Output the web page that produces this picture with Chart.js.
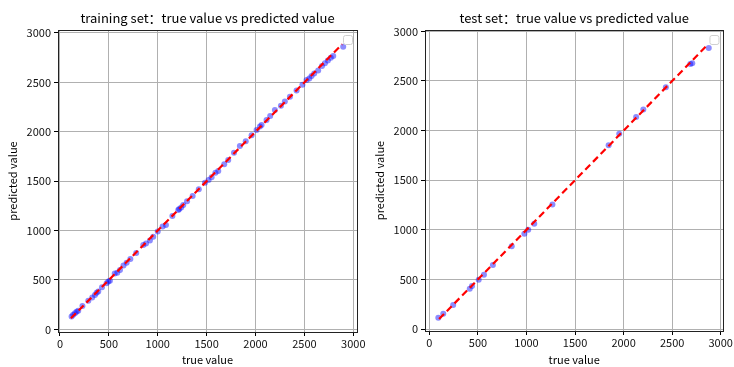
<!DOCTYPE html>
<html>
<head>
<meta charset="utf-8">
<script src="https://cdn.jsdelivr.net/npm/chart.js@4.4.1/dist/chart.umd.min.js"></script>
<style>
  html, body { margin: 0; padding: 0; background: #fff; }
  #wrap { position: relative; width: 734px; height: 367px; }
  canvas { position: absolute; top: 0; }
  #c1 { left: 0; }
  #c2 { left: 367px; }
</style>
</head>
<body>
<div id="wrap">
  <canvas id="c1" width="367" height="367"></canvas>
  <canvas id="c2" width="367" height="367"></canvas>
</div>
<script>
// ---- data ----
const trainTrue = [119,135,153,170,187,230,290,330,358,375,392,430,477,495,511,560,586,614,650,682,720,780,852,880,920,954,1000,1050,1084,1150,1210,1220,1240,1261,1300,1357,1420,1483,1520,1551,1590,1619,1680,1721,1780,1840,1900,1960,2011,2045,2062,2113,2150,2198,2260,2300,2352,2420,2480,2522,2550,2573,2600,2641,2680,2710,2740,2770,2795,2897];
const trainPred = [129,148,163,178,189,236,290,322,348,370,382,425,467,485,493,566,574,601,645,675,712,772,854,870,898,938,990,1040,1057,1146,1208,1218,1232,1259,1296,1350,1418,1485,1512,1539,1585,1603,1670,1714,1788,1856,1905,1965,2018,2052,2069,2119,2160,2221,2262,2305,2355,2418,2475,2524,2540,2565,2590,2619,2665,2693,2722,2748,2767,2861];
const testTrue = [92,143,245,416,439,508,562,654,848,978,1018,1080,1267,1846,1955,2129,2203,2435,2687,2707,2877];
const testPred = [114,154,242,406,433,497,547,645,833,960,1000,1060,1256,1853,1967,2137,2212,2437,2672,2679,2833];
const trainLine = [112, 2885];
const testLine = [100, 2860];
const tickVals = [0,500,1000,1500,2000,2500,3000];
const titles = ['training set：true value vs predicted value', 'test set：true value vs predicted value'];
const xLabel = 'true value';
const yLabel = 'predicted value';

const FONT = "'Noto Sans CJK SC', 'Noto Sans', sans-serif";

function framePlugin() {
  return {
    id: 'frame',
    afterDraw(chart, args, opts) {
      const {ctx, chartArea: a} = chart;
      ctx.save();
      ctx.fillStyle = '#000';
      ctx.font = '13px ' + FONT;
      ctx.textAlign = 'center';
      ctx.textBaseline = 'middle';
      ctx.fillText(opts.title, (a.left + a.right) / 2, 18);
      ctx.strokeStyle = '#222';
      ctx.lineWidth = 1;
      const l = Math.round(a.left), t = Math.round(a.top), r = Math.round(a.right), b = Math.round(a.bottom);
      ctx.strokeRect(l + 0.5, t + 0.5, r - l, b - t);
      const bx = a.right - 14, by = a.top + 5, s = 9;
      ctx.strokeStyle = '#d0d0d0';
      ctx.fillStyle = '#fff';
      ctx.beginPath();
      ctx.roundRect(bx + 0.5, by + 0.5, s, s, 2);
      ctx.fill();
      ctx.stroke();
      ctx.restore();
    }
  };
}

function makeChart(id, xs, ys, line, xr, yr, pad, xH, title) {
  const pts = xs.map((v, i) => ({x: v, y: ys[i]}));
  const tickCfg = { font: { size: 11, family: FONT }, color: '#111', callback: v => String(v) };
  return new Chart(document.getElementById(id), {
    type: 'scatter',
    data: {
      datasets: [
        {
          data: [{x: line[0], y: line[0]}, {x: line[1], y: line[1]}],
          showLine: true,
          borderColor: '#ff0000',
          borderWidth: 2.2,
          borderDash: [7, 4],
          pointRadius: 0,
          order: 0
        },
        {
          data: pts,
          backgroundColor: 'rgba(0,0,255,0.45)',
          borderWidth: 0,
          pointRadius: 3,
          order: 1
        }
      ]
    },
    options: {
      responsive: false,
      animation: false,
      devicePixelRatio: 1,
      layout: { padding: { top: 30, right: pad, left: 0, bottom: 0 } },
      plugins: {
        legend: { display: false },
        tooltip: { enabled: false },
        frame: { title: title }
      },
      scales: {
        x: {
          type: 'linear',
          min: xr[0], max: xr[1],
          afterBuildTicks: s => { s.ticks = tickVals.map(v => ({value: v})); },
          ticks: Object.assign({ padding: 1, maxRotation: 0 }, tickCfg),
          grid: { color: '#b0b0b0', lineWidth: 1, tickLength: 4, tickColor: '#000' },
          border: { display: false },
          title: { display: true, text: xLabel, color: '#000', font: { size: 11, family: FONT }, padding: { top: 0, bottom: 1 } },
          afterFit: s => { s.height = xH; }
        },
        y: {
          type: 'linear',
          min: yr[0], max: yr[1],
          afterBuildTicks: s => { s.ticks = tickVals.map(v => ({value: v})); },
          ticks: Object.assign({ padding: 3 }, tickCfg),
          grid: { color: '#b0b0b0', lineWidth: 1, tickLength: 4, tickColor: '#000' },
          border: { display: false },
          title: { display: true, text: yLabel, color: '#000', font: { size: 11, family: FONT }, padding: { top: 6, bottom: 0 } },
          afterFit: s => { s.width = 58; }
        }
      }
    },
    plugins: [framePlugin()]
  });
}

makeChart('c1', trainTrue, trainPred, trainLine, [-20, 3038], [-27, 3030], 10, 35, titles[0]);
makeChart('c2', testTrue, testPred, testLine, [-45, 3028], [-20, 3014], 7, 36, titles[1]);
</script>
</body>
</html>
